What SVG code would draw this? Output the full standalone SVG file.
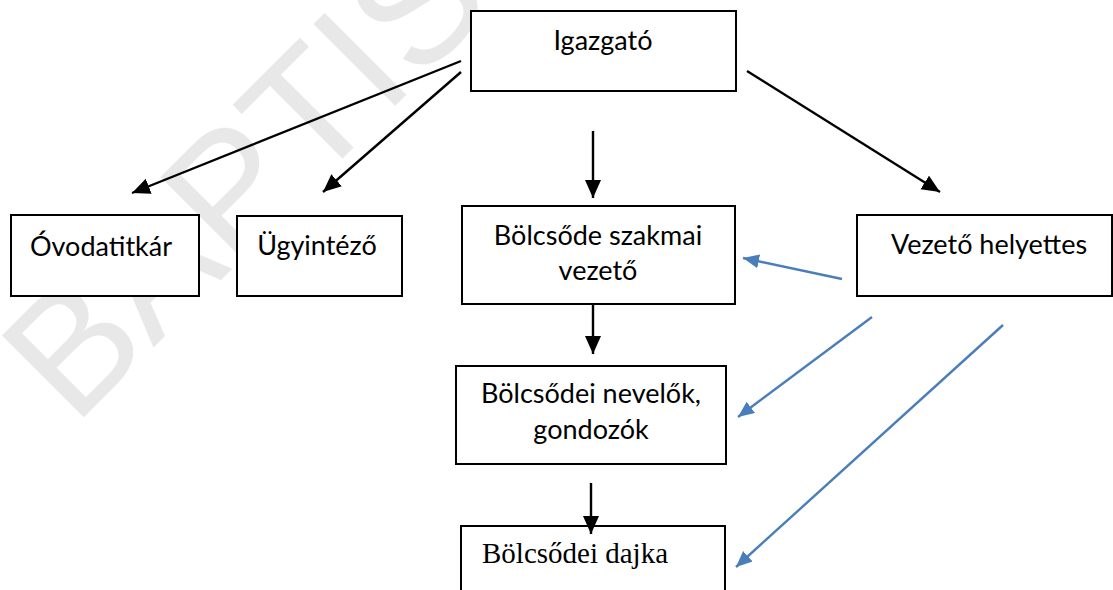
<svg xmlns="http://www.w3.org/2000/svg" width="1113" height="590" viewBox="0 0 1113 590">
<defs>
<style>
.box{fill:#fff;stroke:#000;stroke-width:2}
.lbl{font-family:Lato,"Liberation Sans",sans-serif;font-size:27px;fill:#000;text-anchor:middle}
.ser{font-family:"Liberation Serif","Times New Roman",serif;font-size:29px;fill:#000}
.blk{stroke:#000;stroke-width:2.4;fill:none}
.blu{stroke:#4a7ebb;stroke-width:2.4;fill:none}
.wm{font-family:"Liberation Sans",Arial,sans-serif;font-size:168px;fill:#e8e8e8}
</style>
<marker id="ab" markerUnits="userSpaceOnUse" markerWidth="19" markerHeight="17" refX="18" refY="8" orient="auto"><path d="M0,0 L18,8 L0,16 z" fill="#000"/></marker>
<marker id="au" markerUnits="userSpaceOnUse" markerWidth="17" markerHeight="15" refX="16" refY="7" orient="auto"><path d="M0,0 L16,7 L0,14 z" fill="#4a7ebb"/></marker>
</defs>
<rect width="1113" height="590" fill="#fff"/>
<text class="wm" transform="translate(74,427) rotate(-45)">BAPTIS</text>
<g id="connectors">
<line class="blk" x1="461" y1="61" x2="132" y2="193" marker-end="url(#ab)"/>
<line class="blk" x1="461" y1="72" x2="323" y2="192" marker-end="url(#ab)"/>
<line class="blk" x1="593" y1="131" x2="593" y2="198" marker-end="url(#ab)"/>
<line class="blk" x1="747" y1="71" x2="940" y2="192" marker-end="url(#ab)"/>
<line class="blk" x1="593" y1="304" x2="593" y2="354" marker-end="url(#ab)"/>
<line class="blu" x1="842" y1="279" x2="743" y2="258" marker-end="url(#au)"/>
<line class="blu" x1="872" y1="317" x2="738" y2="417" marker-end="url(#au)"/>
<line class="blu" x1="1003" y1="325" x2="736" y2="567" marker-end="url(#au)"/>
</g>
<g id="igazgato"><rect class="box" x="471" y="11" width="265" height="80"/><text class="lbl" x="603" y="50">Igazgató</text></g>
<g id="ovodatitkar"><rect class="box" x="11" y="215" width="188" height="81"/><text class="lbl" x="101" y="256">Óvodatitkár</text></g>
<g id="ugyintezo"><rect class="box" x="237" y="216" width="165" height="80"/><text class="lbl" x="317" y="255">Ügyintéző</text></g>
<g id="bolcsode-vezeto"><rect class="box" x="462" y="206" width="273" height="98"/><text class="lbl" x="598" y="245">Bölcsőde szakmai</text><text class="lbl" x="598" y="280">vezető</text></g>
<g id="vezeto-helyettes"><rect class="box" x="857" y="215" width="255" height="81"/><text class="lbl" x="989" y="254">Vezető helyettes</text></g>
<g id="nevelok"><rect class="box" x="456" y="366" width="270" height="98"/><text class="lbl" x="591" y="403">Bölcsődei nevelők,</text><text class="lbl" x="591" y="439">gondozók</text></g>
<g id="dajka"><rect class="box" x="461" y="526" width="264" height="80"/><text class="ser" x="482" y="563">Bölcsődei dajka</text></g>
<line class="blk" x1="591" y1="483" x2="591" y2="534" marker-end="url(#ab)"/>
</svg>
